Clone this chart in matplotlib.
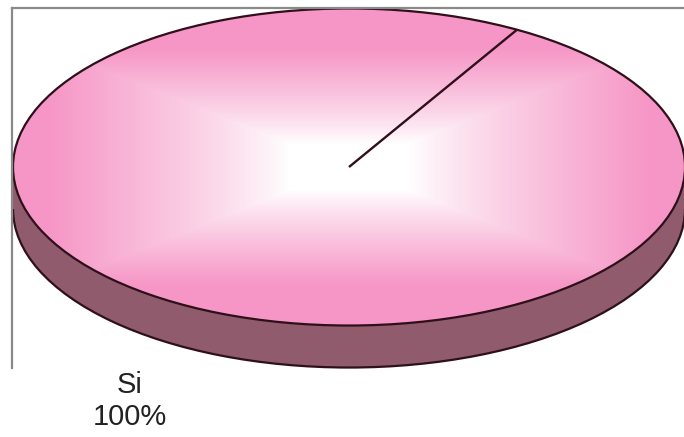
import numpy as np
import matplotlib
matplotlib.use('Agg')
from matplotlib import pyplot, patches

labels = ['Si']
values = [100]

W, H = 684, 437
fig = pyplot.figure(figsize=(W / 100, H / 100), dpi=100)
# plot area: left border at x=12, top at y=8, bottom at y=368 (pixels)
ax = fig.add_axes([12 / W, (H - 368) / H, (W - 12) / W, 360 / H])

PINK = np.array([246, 150, 198]) / 255
SIDE = '#8f5b6d'
EDGE = '#2e0f1a'
depth = 0.265
start = 60

# side of the 3d disc
bottom, _ = ax.pie(values, startangle=start, center=(0, -depth), colors=[SIDE],
                   wedgeprops=dict(edgecolor=EDGE, linewidth=1.6))
for w in bottom:
    w.set_zorder(1)
ax.add_patch(patches.Rectangle((-1, -depth), 2, depth, facecolor=SIDE,
                               edgecolor='none', zorder=1.5))

# top face
top, _ = ax.pie(values, startangle=start, colors=['none'],
                wedgeprops=dict(edgecolor=EDGE, linewidth=1.6))
for w in top:
    w.set_zorder(3)

u, v = np.meshgrid(np.linspace(-1, 1, 400), np.linspace(-1, 1, 400))
t = np.clip((np.maximum(np.abs(u), np.abs(v) * 1.2) - 0.18) / 0.72, 0, 1) ** 0.85
img = np.ones((400, 400, 3)) * (1 - t[..., None]) + PINK * t[..., None]
im = ax.imshow(img, extent=[-1, 1, -1, 1], origin='lower', zorder=2,
               interpolation='bilinear')
im.set_clip_path(top[0])

# the single slice's edge, from the centre out to the start angle
a = np.radians(start)
ax.plot([0, np.cos(a)], [0, np.sin(a)], color=EDGE, lw=1.7, zorder=4,
        solid_capstyle='butt')

ax.set_aspect('auto')
ax.set_xlim(-1.003, 0.997)
ax.set_ylim(-1.268, 1.003)
ax.set_frame_on(True)
for side in ['right', 'bottom']:
    ax.spines[side].set_visible(False)
for side in ['left', 'top']:
    ax.spines[side].set_color('#8a8a8a')
    ax.spines[side].set_linewidth(1.6)
    ax.spines[side].set_zorder(5)
ax.set_xticks([])
ax.set_yticks([])

pct = values[0] / sum(values) * 100
ax.text(-0.652, -1.475, '{}\n{:.0f}%'.format(labels[0], pct), ha='center',
        va='center', fontsize=21, family='Liberation Sans', color='#222222',
        linespacing=1.2, clip_on=False)

fig.savefig('out.png', dpi=100)
